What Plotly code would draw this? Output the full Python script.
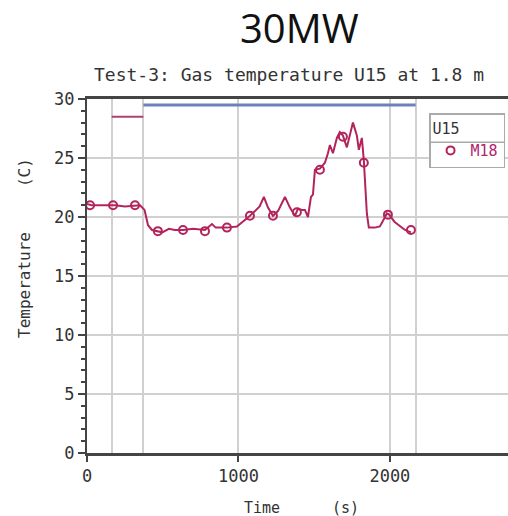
import plotly.graph_objects as go

# M18 gas temperature line (time s, temperature C)
time_s = [0, 30, 100, 185, 250, 317, 350, 380, 403, 429, 468, 497, 541, 580, 634, 700,
          779, 825, 850, 924, 990, 1030, 1076, 1109, 1140, 1168, 1195, 1228, 1261, 1307,
          1340, 1373, 1393, 1420, 1439, 1459, 1479, 1492, 1505, 1538, 1571, 1591, 1604,
          1624, 1650, 1670, 1690, 1716, 1756, 1782, 1795, 1815, 1828, 1848, 1861, 1900,
          1934, 1960, 1980, 1995, 2030, 2070, 2100, 2139]
temp_c = [21.1, 21.0, 21.0, 21.0, 20.9, 21.0, 21.0, 20.6, 19.3, 18.9, 18.8, 18.7, 19.0,
          18.9, 18.9, 19.0, 18.9, 19.4, 19.1, 19.1, 19.2, 19.6, 20.1, 20.5, 20.9, 21.7,
          20.8, 20.1, 20.5, 21.7, 20.8, 20.1, 20.7, 20.6, 20.6, 20.0, 21.7, 21.9, 24.0,
          24.1, 24.6, 25.4, 26.1, 25.4, 26.7, 27.2, 26.9, 25.9, 28.0, 26.9, 25.7, 26.7,
          24.8, 20.3, 19.1, 19.1, 19.2, 19.8, 20.3, 20.2, 19.6, 19.2, 18.9, 18.7]

# M18 marker positions
marker_t = [20, 172, 317, 468, 634, 779, 924, 1076, 1228, 1386, 1538, 1690, 1828, 1987, 2139]
marker_c = [21.0, 21.0, 21.0, 18.8, 18.9, 18.8, 19.1, 20.1, 20.1, 20.4, 24.0, 26.8, 24.6, 20.2, 18.9]

# phase indicator bars
phase1_t = [163, 372]
phase1_c = [28.5, 28.5]
phase2_t = [372, 2170]
phase2_c = [29.5, 29.5]

x_ticks = [0, 1000, 2000]
x_phase_lines = [163, 372, 2170]
y_ticks = [0, 5, 10, 15, 20, 25, 30]

LINE = "#b3245c"
MONO = "DejaVu Sans Mono"

fig = go.Figure()
fig.add_trace(go.Scatter(x=phase1_t, y=phase1_c, mode="lines",
                         line=dict(color="#b04070", width=2), showlegend=False))
fig.add_trace(go.Scatter(x=phase2_t, y=phase2_c, mode="lines",
                         line=dict(color="#6f82b8", width=3), showlegend=False))
fig.add_trace(go.Scatter(x=time_s, y=temp_c, mode="lines",
                         line=dict(color=LINE, width=2), showlegend=False))
fig.add_trace(go.Scatter(x=marker_t, y=marker_c, mode="markers", name="M18",
                         marker=dict(symbol="circle-open", size=8, color=LINE,
                                     line=dict(width=2, color=LINE))))

fig.update_layout(
    width=508, height=516,
    margin=dict(l=87, r=0, t=99, b=63),
    paper_bgcolor="white", plot_bgcolor="white",
    font=dict(family=MONO, size=17, color="#333"),
    showlegend=True,
    legend=dict(x=0.993, y=0.96, xanchor="right", yanchor="top",
                bgcolor="rgba(0,0,0,0)", bordercolor="#aaa", borderwidth=1.5,
                tracegroupgap=0,
                title=dict(text="U15", font=dict(family=MONO, size=15, color="#333")),
                font=dict(family=MONO, size=15, color="#b3246e"),
                itemwidth=30),
    xaxis=dict(range=[0, 2780], tickmode="array", tickvals=x_ticks,
               showgrid=True, gridcolor="#d0d0d0", gridwidth=2,
               showline=True, linecolor="#444", linewidth=2.5, mirror=True,
               ticks="outside", ticklen=6, tickcolor="#444", tickwidth=2,
               zeroline=False,
               tickfont=dict(family=MONO, size=17, color="#333"),
               minor=dict(tickmode="array", tickvals=x_phase_lines, showgrid=True,
                          gridcolor="#d0d0d0", gridwidth=2, ticks="")),
    yaxis=dict(range=[0, 30], tickmode="array", tickvals=y_ticks,
               showgrid=True, gridcolor="#d0d0d0", gridwidth=2,
               showline=True, linecolor="#444", linewidth=2, mirror=False,
               ticks="outside", ticklen=7, tickcolor="#444", tickwidth=2,
               zeroline=False,
               tickfont=dict(family=MONO, size=17, color="#333"),
               minor=dict(dtick=1, ticks="outside", ticklen=4, tickcolor="#444",
                          tickwidth=1.5, showgrid=False)),
)

# white background behind the legend and separator between header and entry
fig.add_shape(type="rect", xref="paper", yref="paper", x0=0.812, x1=0.993,
              y0=0.80, y1=0.96, layer="above", fillcolor="white", line=dict(width=0))
fig.add_shape(type="line", xref="paper", yref="paper", x0=0.812, x1=0.993,
              y0=0.878, y1=0.878, layer="above", line=dict(color="#aaa", width=1.5))

fig.add_annotation(text="30MW", xref="paper", yref="paper", x=0.504, y=1.203,
                   xanchor="center", yanchor="middle", showarrow=False,
                   font=dict(family="Open Sans", size=40, color="#111"))
fig.add_annotation(text="Test-3: Gas temperature U15 at 1.8 m", xref="paper", yref="paper",
                   x=0.48, y=1.068, xanchor="center", yanchor="middle", showarrow=False,
                   font=dict(family=MONO, size=18, color="#333"))
fig.add_annotation(text="Temperature", xref="paper", yref="paper", x=-0.147, y=0.475,
                   textangle=-90, xanchor="center", yanchor="middle", showarrow=False,
                   font=dict(family=MONO, size=16, color="#333"))
fig.add_annotation(text="(C)", xref="paper", yref="paper", x=-0.147, y=0.791,
                   textangle=-90, xanchor="center", yanchor="middle", showarrow=False,
                   font=dict(family=MONO, size=16, color="#333"))
fig.add_annotation(text="Time", xref="paper", yref="paper", x=0.416, y=-0.155,
                   xanchor="center", yanchor="middle", showarrow=False,
                   font=dict(family=MONO, size=15, color="#333"))
fig.add_annotation(text="(s)", xref="paper", yref="paper", x=0.613, y=-0.155,
                   xanchor="center", yanchor="middle", showarrow=False,
                   font=dict(family=MONO, size=15, color="#333"))

fig.write_html("out.html")
